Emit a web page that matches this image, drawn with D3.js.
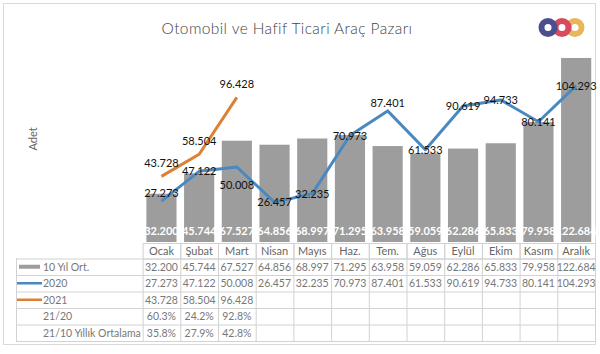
<!DOCTYPE html>
<html>
<head>
<meta charset="utf-8">
<script src="https://cdn.jsdelivr.net/npm/d3@7"></script>
<style>
  body { margin: 0; background: #fff; }
  text { font-family: "Lato", "Open Sans", sans-serif; }
</style>
</head>
<body>
<div class="chart"></div>
<script>
// data
const months = ['Ocak', 'Şubat', 'Mart', 'Nisan', 'Mayıs', 'Haz.', 'Tem.', 'Ağus', 'Eylül', 'Ekim', 'Kasım', 'Aralık'];
const avg10 = [32.200, 45.744, 67.527, 64.856, 68.997, 71.295, 63.958, 59.059, 62.286, 65.833, 79.958, 122.684];
const y2020 = [27.273, 47.122, 50.008, 26.457, 32.235, 70.973, 87.401, 61.533, 90.619, 94.733, 80.141, 104.293];
const y2021 = [43.728, 58.504, 96.428];
const r2120 = ['60.3%', '24.2%', '92.8%'];
const r2110 = ['35.8%', '27.9%', '42.8%'];
const rowLabels = ['10 Yıl Ort.', '2020', '2021', '21/20', '21/10 Yıllık Ortalama'];
// label placement for 2020 points
const place2020 = ['nudge', 'center', 'below', 'center', 'center', 'center', 'nudge', 'center', 'center', 'center', 'center', 'center'];

const width = 600, height = 354;
const fmt = v => v.toFixed(3);

const svg = d3.select('.chart').append('svg')
  .attr('width', width)
  .attr('height', height)

// outer border
svg.append('rect')
  .attr('x', 3.5).attr('y', 3.5)
  .attr('width', 592).attr('height', 341)
  .style('fill', 'none')
  .style('stroke', '#dadada')

// title
svg.append('text')
  .attr('x', 287).attr('y', 34)
  .attr('text-anchor', 'middle')
  .style('font-size', '15.5px')
  .style('letter-spacing', '0.4px')
  .style('font-weight', 300)
  .style('fill', '#444')
  .text('Otomobil ve Hafif Ticari Araç Pazarı')

// logo
const logo = [['#4b4f8f', 548], ['#d84a5e', 562], ['#e9b55a', 575]];
logo.slice().reverse().forEach(([c, cx]) => {
  svg.append('circle')
    .attr('cx', cx).attr('cy', 27.5).attr('r', 6.5)
    .style('fill', 'none')
    .style('stroke', c)
    .style('stroke-width', 6)
})

// axis title
svg.append('text')
  .attr('transform', 'translate(37,139) rotate(-90)')
  .attr('text-anchor', 'middle')
  .style('font-size', '11px')
  .style('fill', '#666')
  .text('Adet')

// scales
const x = d3.scaleBand()
  .domain(months)
  .range([142.6, 595])
  .paddingInner(0.2)
  .paddingOuter(0.1)

const colW = (595 - 142.6) / months.length;
const colX = i => 142.6 + i * colW;
const cx = m => x(m) + x.bandwidth() / 2;

const y = d3.scaleLinear()
  .domain([0, 140])
  .range([242, 32])

// bars
svg.selectAll('.bar')
  .data(avg10)
  .join('rect')
  .attr('class', 'bar')
  .attr('x', (d, i) => x(months[i]))
  .attr('y', d => y(d))
  .attr('width', x.bandwidth())
  .attr('height', d => y(0) - y(d))
  .style('fill', '#9d9d9d')

svg.selectAll('.barlabel')
  .data(avg10)
  .join('text')
  .attr('class', 'barlabel')
  .attr('x', (d, i) => cx(months[i]))
  .attr('y', 235)
  .attr('text-anchor', 'middle')
  .style('font-size', '11px')
  .style('font-weight', 'bold')
  .style('fill', '#fff')
  .text(d => fmt(d))

// lines
const line = d3.line()
  .x((d, i) => cx(months[i]))
  .y(d => y(d))

svg.append('path')
  .datum(y2020)
  .attr('d', line)
  .style('fill', 'none')
  .style('stroke', '#4a89c0')
  .style('stroke-width', 3)
  .style('stroke-linejoin', 'round')

svg.append('path')
  .datum(y2021)
  .attr('d', line)
  .style('fill', 'none')
  .style('stroke', '#dc8032')
  .style('stroke-width', 3)
  .style('stroke-linejoin', 'round')

const dyFor = { above: -9, nudge: -4, center: 4, below: 22 };

svg.selectAll('.lab2020')
  .data(y2020)
  .join('text')
  .attr('class', 'lab2020')
  .attr('x', (d, i) => cx(months[i]))
  .attr('y', (d, i) => y(d) + dyFor[place2020[i]])
  .attr('text-anchor', 'middle')
  .style('font-size', '11px')
  .style('fill', '#111')
  .text(d => fmt(d))

svg.selectAll('.lab2021')
  .data(y2021)
  .join('text')
  .attr('class', 'lab2021')
  .attr('x', (d, i) => cx(months[i]))
  .attr('y', d => y(d) + dyFor.above)
  .attr('text-anchor', 'middle')
  .style('font-size', '11px')
  .style('fill', '#111')
  .text(d => fmt(d))

// data table
const gridColor = '#d2d2d2';
const headTop = 243, headH = 15.5, rowH = 16.5;
const bodyTop = headTop + headH;
const tableLeft = 16, tableRight = 595;

// header cells
months.forEach((m, i) => {
  svg.append('rect')
    .attr('x', colX(i) + 0.5).attr('y', headTop + 0.5)
    .attr('width', colW).attr('height', headH)
    .style('fill', 'none')
    .style('stroke', gridColor)
  svg.append('text')
    .attr('x', colX(i) + colW / 2).attr('y', headTop + 11.5)
    .attr('text-anchor', 'middle')
    .style('font-size', '11px')
    .style('fill', '#666')
    .text(m)
})

// body horizontal lines
for (let r = 0; r <= rowLabels.length; r++) {
  svg.append('line')
    .attr('x1', tableLeft).attr('x2', tableRight)
    .attr('y1', bodyTop + r * rowH + 0.5).attr('y2', bodyTop + r * rowH + 0.5)
    .style('stroke', gridColor)
}
// body vertical lines
svg.append('line')
  .attr('x1', tableLeft + 0.5).attr('x2', tableLeft + 0.5)
  .attr('y1', bodyTop).attr('y2', bodyTop + rowLabels.length * rowH)
  .style('stroke', gridColor)
for (let i = 0; i <= months.length; i++) {
  svg.append('line')
    .attr('x1', colX(i) + 0.5).attr('x2', colX(i) + 0.5)
    .attr('y1', bodyTop).attr('y2', bodyTop + rowLabels.length * rowH)
    .style('stroke', gridColor)
}

// row labels with legend keys
rowLabels.forEach((lab, r) => {
  svg.append('text')
    .attr('x', 43).attr('y', bodyTop + r * rowH + 12)
    .style('font-size', '10.5px')
    .style('fill', '#777')
    .text(lab)
})
svg.append('rect')
  .attr('x', 19).attr('y', bodyTop + rowH / 2 - 2)
  .attr('width', 21).attr('height', 4)
  .style('fill', '#9d9d9d')
svg.append('line')
  .attr('x1', 17).attr('x2', 42)
  .attr('y1', bodyTop + rowH * 1.5).attr('y2', bodyTop + rowH * 1.5)
  .style('stroke', '#4a89c0').style('stroke-width', 2.5)
svg.append('line')
  .attr('x1', 17).attr('x2', 42)
  .attr('y1', bodyTop + rowH * 2.5).attr('y2', bodyTop + rowH * 2.5)
  .style('stroke', '#dc8032').style('stroke-width', 2.5)

// cell values
const rows = [avg10.map(fmt), y2020.map(fmt), y2021.map(fmt), r2120, r2110];
rows.forEach((vals, r) => {
  vals.forEach((v, i) => {
    svg.append('text')
      .attr('x', colX(i) + colW / 2).attr('y', bodyTop + r * rowH + 12)
      .attr('text-anchor', 'middle')
      .style('font-size', '10.5px')
      .style('fill', '#777')
      .text(v)
  })
})
</script>
</body>
</html>
